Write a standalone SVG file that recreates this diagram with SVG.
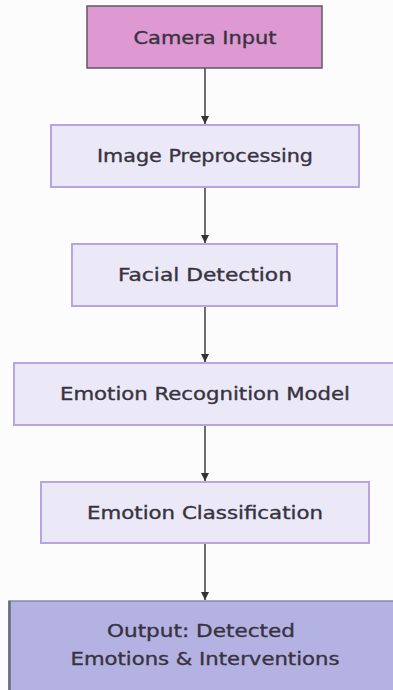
<svg xmlns="http://www.w3.org/2000/svg" width="393" height="690" viewBox="0 0 393 690">
  <style>
    .box { fill: #ebe9f7; stroke: #b7a4e3; stroke-width: 2; }
    .lbl { font-family: "DejaVu Sans", Verdana, sans-serif; font-size: 17px; fill: #38333f; stroke: #38333f; stroke-width: 0.35; text-anchor: middle; }
    .edge { stroke: #4a4a4a; stroke-width: 1.6; fill: none; }
  </style>
  <defs>
    <marker id="arrow" viewBox="0 0 10 10" refX="10" refY="5" markerWidth="8" markerHeight="9" markerUnits="userSpaceOnUse" orient="auto">
      <path d="M0,0 L10,5 L0,10 z" fill="#333"/>
    </marker>
  </defs>
  <rect width="393" height="690" fill="#fcfcfd"/>

  <g id="edges">
    <line class="edge" x1="205" y1="68" x2="205" y2="124" marker-end="url(#arrow)"/>
    <line class="edge" x1="205" y1="187" x2="205" y2="243" marker-end="url(#arrow)"/>
    <line class="edge" x1="205" y1="306" x2="205" y2="362" marker-end="url(#arrow)"/>
    <line class="edge" x1="205" y1="425" x2="205" y2="481" marker-end="url(#arrow)"/>
    <line class="edge" x1="205" y1="543" x2="205" y2="600" marker-end="url(#arrow)"/>
  </g>

  <g id="camera">
    <rect x="87" y="6" width="235" height="62" fill="#de98d2" stroke="#5e5a66" stroke-width="1.5"/>
    <text class="lbl" x="205" y="44" textLength="143" lengthAdjust="spacingAndGlyphs">Camera Input</text>
  </g>

  <g id="preprocess">
    <rect class="box" x="51" y="125" width="308" height="62"/>
    <text class="lbl" x="205" y="162" textLength="216" lengthAdjust="spacingAndGlyphs">Image Preprocessing</text>
  </g>

  <g id="face">
    <rect class="box" x="72" y="244" width="265" height="62"/>
    <text class="lbl" x="205" y="281" textLength="174" lengthAdjust="spacingAndGlyphs">Facial Detection</text>
  </g>

  <g id="model">
    <rect class="box" x="14" y="363" width="386" height="62"/>
    <text class="lbl" x="205" y="400" textLength="290" lengthAdjust="spacingAndGlyphs">Emotion Recognition Model</text>
  </g>

  <g id="classify">
    <rect class="box" x="41" y="482" width="328" height="61"/>
    <text class="lbl" x="205" y="519" textLength="236" lengthAdjust="spacingAndGlyphs">Emotion Classification</text>
  </g>

  <g id="output">
    <rect x="9" y="601" width="392" height="95" fill="#b4b2e3" stroke="#8a88a8" stroke-width="1.5"/>
    <line x1="9.5" y1="601" x2="9.5" y2="690" stroke="#6c6a86" stroke-width="2.5"/>
    <text class="lbl" x="201" y="637" textLength="188" lengthAdjust="spacingAndGlyphs">Output: Detected</text>
    <text class="lbl" x="205" y="665" textLength="269" lengthAdjust="spacingAndGlyphs">Emotions &amp; Interventions</text>
  </g>
</svg>
